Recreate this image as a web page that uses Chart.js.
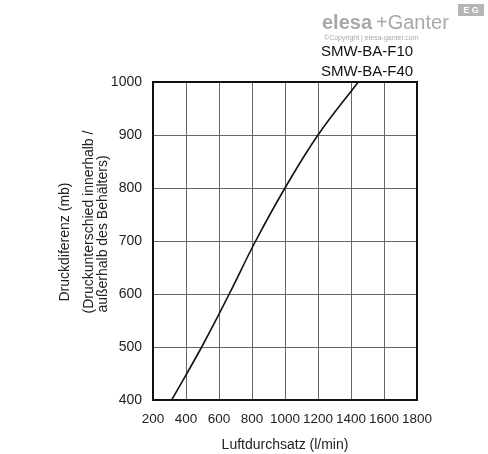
<!DOCTYPE html>
<html>
<head>
<meta charset="utf-8">
<script src="https://cdn.jsdelivr.net/npm/chart.js@4"></script>
<style>
  html, body { margin: 0; padding: 0; background: #fff; }
  #wrap { width: 488px; height: 454px; position: relative; }
</style>
</head>
<body>
<div id="wrap"><canvas id="chart" width="488" height="454"></canvas></div>
<script>
/* ===== data ===== */
const flow = [313, 495, 662, 822, 1000, 1200, 1444];      // l/min
const pressure = [400, 500, 600, 700, 800, 900, 1000];    // mb
const seriesNames = ["SMW-BA-F10", "SMW-BA-F40"];
const xTicks = [200, 400, 600, 800, 1000, 1200, 1400, 1600, 1800];
const yTicks = [400, 500, 600, 700, 800, 900, 1000];
const xTitle = "Luftdurchsatz (l/min)";
const yTitle = ["Druckdiferenz (mb)", "(Druckunterschied innerhalb /", "außerhalb des Behälters)"];

const FONT = "'Liberation Sans', Arial, sans-serif";

/* ===== frame, y title, labels, logo ===== */
const extras = {
  id: "extras",
  afterDraw(chart) {
    const { ctx, chartArea: a } = chart;
    ctx.save();
    ctx.strokeStyle = "#111";
    ctx.lineWidth = 2;
    ctx.strokeRect(a.left, a.top, a.right - a.left, a.bottom - a.top);

    // y axis title, three rotated lines
    ctx.fillStyle = "#222";
    ctx.font = "14px " + FONT;
    ctx.textAlign = "center";
    ctx.textBaseline = "middle";
    const titlePos = [[65, 242], [89, 222], [103, 234]];
    yTitle.forEach((t, i) => {
      ctx.save();
      ctx.translate(titlePos[i][0], titlePos[i][1]);
      ctx.rotate(-Math.PI / 2);
      ctx.fillText(t, 0, 0);
      ctx.restore();
    });

    // series names above plot
    ctx.fillStyle = "#111";
    ctx.font = "15px " + FONT;
    ctx.fillText(seriesNames[0], 367, 52);
    ctx.fillText(seriesNames[1], 367, 72);

    // logo
    ctx.fillStyle = "#a8a8a8";
    ctx.textAlign = "left";
    ctx.font = "bold 20px " + FONT;
    ctx.fillText("elesa", 322, 23);
    ctx.font = "20px " + FONT;
    ctx.fillText("+Ganter", 376, 23);
    ctx.font = "7px " + FONT;
    ctx.fillText("©Copyright | elesa-ganter.com", 324, 38);
    ctx.fillStyle = "#b5b5b5";
    ctx.fillRect(458, 4, 26, 12);
    ctx.fillStyle = "#fff";
    ctx.font = "bold 9px " + FONT;
    ctx.textAlign = "center";
    ctx.fillText("E G", 471, 10.5);
    ctx.restore();
  }
};

const points = flow.map((x, i) => ({ x: x, y: pressure[i] }));

new Chart(document.getElementById("chart"), {
  type: "line",
  data: {
    datasets: [{
      data: points,
      borderColor: "#111",
      borderWidth: 1.6,
      pointRadius: 0,
      tension: 0.4,
      fill: false
    }]
  },
  options: {
    responsive: false,
    animation: false,
    layout: { padding: { top: 82, right: 71, left: 0, bottom: 0 } },
    plugins: { legend: { display: false }, tooltip: { enabled: false } },
    scales: {
      x: {
        type: "linear",
        min: xTicks[0],
        max: xTicks[xTicks.length - 1],
        afterBuildTicks: s => { s.ticks = xTicks.map(v => ({ value: v })); },
        afterFit: s => { s.height = 54; },
        grid: { color: "#666", lineWidth: 1, drawTicks: false },
        border: { display: false },
        ticks: { color: "#222", font: { family: FONT, size: 13.5 }, padding: 11, maxRotation: 0, autoSkip: false, callback: v => String(v) },
        title: { display: true, text: xTitle, color: "#222", font: { family: FONT, size: 14 }, padding: { top: 7, bottom: 0 } }
      },
      y: {
        min: yTicks[0],
        max: yTicks[yTicks.length - 1],
        afterBuildTicks: s => { s.ticks = yTicks.map(v => ({ value: v })); },
        afterFit: s => { s.width = 153; },
        grid: { color: "#666", lineWidth: 1, drawTicks: false },
        border: { display: false },
        ticks: { color: "#222", font: { family: FONT, size: 14 }, padding: 11, callback: v => String(v) }
      }
    }
  },
  plugins: [extras]
});
</script>
</body>
</html>
